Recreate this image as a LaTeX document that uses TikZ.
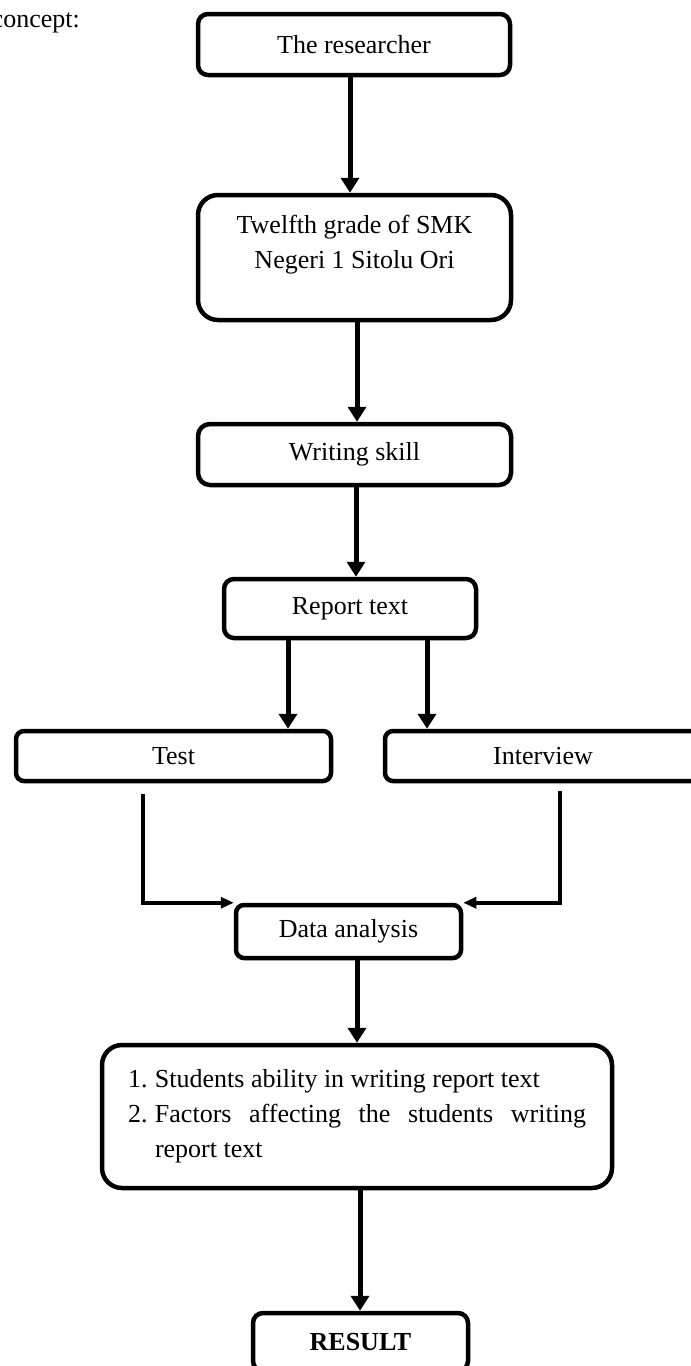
\documentclass[tikz,border=0pt]{standalone}
\usepackage{fontspec}
\setmainfont{Liberation Serif}
\usetikzlibrary{arrows.meta}
\begin{document}
\begin{tikzpicture}[x=1pt,y=-1pt,
  every node/.style={font=\fontsize{26}{35}\selectfont, text=black},
  box/.style={draw=black, line width=4.5pt, rounded corners=#1, inner sep=0pt},
  box/.default=10pt,
  txt/.style={inner sep=0pt, align=center},
  arr/.style={draw=black, line width=5pt, -{Triangle[length=15pt,width=18pt]}},
  arrs/.style={draw=black, line width=3.5pt, -{Triangle[length=13pt,width=11pt]}}
]
\fill[white] (0,0) rectangle (691,1366);
\useasboundingbox (0,0) rectangle (691,1366);

\node[anchor=base east, inner sep=0pt] (cpt) at (80,27) {concept:};

\node[box=10pt, minimum width=312pt, minimum height=61pt] (res) at (354,44.5) {The researcher};
\node[box=20pt, minimum width=313pt, minimum height=125pt] (tw) at (354.5,257.5) {};
\node[txt] (twt) at (354.5,244.5) {Twelfth grade of SMK\\Negeri 1 Sitolu Ori};
\node[box=12pt, minimum width=313pt, minimum height=61pt] (wr) at (354.5,454.5) {Writing skill};
\node[box=10pt, minimum width=252pt, minimum height=59pt] (rep) at (350,608.5) {Report text};
\node[box=8pt, minimum width=315pt, minimum height=50pt] (test) at (173.5,756) {Test};
\node[box=8pt, minimum width=316pt, minimum height=50pt] (int) at (543,756) {Interview};
\node[box=8pt, minimum width=225pt, minimum height=53pt] (data) at (348.5,931.5) {Data analysis};
\node[box=20pt, minimum width=510pt, minimum height=143pt, text width=458pt, align=justify] (list) at (357,1116.5)
  {\noindent\makebox[27pt][l]{1.}Students ability in writing report text\par
   \noindent\hangindent=27pt\hangafter=1\makebox[27pt][l]{2.}Factors affecting the students writing\linebreak report text\par};
\node[box=10pt, minimum width=215pt, minimum height=58pt, font=\fontsize{26}{35}\selectfont\bfseries] (result) at (360.5,1342) {RESULT};

\coordinate (ts) at (143,794);
\coordinate (is) at (560,791);

\draw[arr] ([xshift=-4pt]res.south) -- ([xshift=-4.5pt]tw.north);
\draw[arr] ([xshift=2.5pt]tw.south) -- ([xshift=2.5pt]wr.north);
\draw[arr] ([xshift=1.5pt]wr.south) -- ([xshift=6pt]rep.north);
\draw[arr] ([xshift=-62pt]rep.south) -- ([xshift=114.5pt]test.north);
\draw[arr] ([xshift=77pt]rep.south) -- ([xshift=-116pt]int.north);
\draw[arrs] (ts) |- (data.north west);
\draw[arrs] (is) |- (data.north east);
\draw[arr] ([xshift=8.5pt]data.south) -- ([xshift=0pt]list.north);
\draw[arr] ([xshift=3pt]list.south) -- ([xshift=-0.5pt]result.north);
\end{tikzpicture}
\end{document}
